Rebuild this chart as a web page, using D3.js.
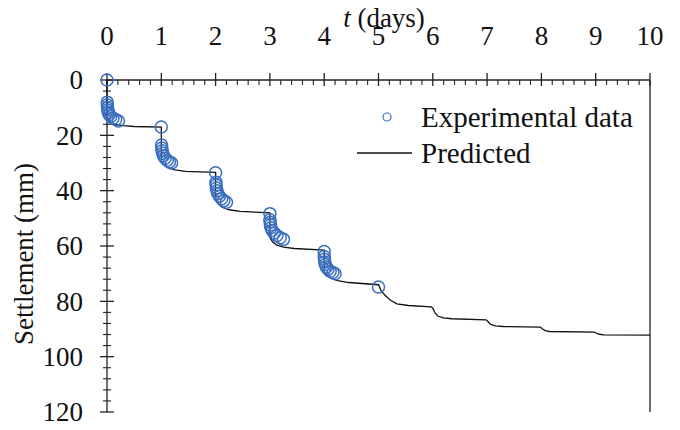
<!DOCTYPE html>
<html>
<head>
<meta charset="utf-8">
<script src="https://cdn.jsdelivr.net/npm/d3@7/dist/d3.min.js"></script>
<style>
  body { margin: 0; background: #fff; }
  svg { display: block; font-family: "Liberation Serif", "Times New Roman", serif; }
</style>
</head>
<body>
<div id="chart"></div>
<script>
// ---- data ----
const xTicks = [0, 1, 2, 3, 4, 5, 6, 7, 8, 9, 10];
const yTicks = [0, 20, 40, 60, 80, 100, 120];

// experimental settlement (mm) vs time (days)
const expT = [
  0, 0.005, 0.005, 0.01, 0.015, 0.025, 0.04, 0.07, 0.11, 0.16, 0.21,
  1.0, 1.005, 1.01, 1.015, 1.025, 1.04, 1.07, 1.11, 1.15, 1.19,
  2.0, 2.005, 2.01, 2.015, 2.025, 2.04, 2.07, 2.11, 2.15, 2.2,
  3.0, 3.0, 3.005, 3.01, 3.02, 3.04, 3.08, 3.13, 3.19, 3.25,
  4.0, 4.0, 4.005, 4.01, 4.02, 4.04, 4.07, 4.11, 4.16, 4.2,
  5.0
];
const expS = [
  0, 8, 9, 10, 10.8, 11.7, 12.5, 13.2, 13.8, 14.3, 14.8,
  17.0, 23.5, 24.6, 25.6, 26.5, 27.4, 28.3, 29.0, 29.6, 30.0,
  33.5, 37.0, 38.0, 39.0, 40.0, 41.0, 42.0, 42.9, 43.6, 44.2,
  48.3, 50.5, 51.4, 52.4, 53.4, 54.4, 55.3, 56.2, 57.0, 57.6,
  62.0, 63.8, 64.8, 65.8, 66.7, 67.6, 68.4, 69.1, 69.6, 70.0,
  74.8
];

// predicted curve
const predT = [
  0, 0, 0.03, 0.08, 0.15, 0.3, 0.5, 1,
  1, 1.05, 1.12, 1.25, 1.45, 2,
  2, 2.05, 2.12, 2.25, 2.45, 3,
  3, 3.05, 3.12, 3.25, 3.45, 4,
  4, 4.05, 4.12, 4.25, 4.45, 5,
  5.05, 5.12, 5.22, 5.34, 5.55, 5.97,
  6.0, 6.04, 6.1, 6.2, 6.35, 6.98,
  7.02, 7.06, 7.15, 7.3, 7.98,
  8.02, 8.07, 8.15, 8.98,
  9.02, 9.07, 9.15, 10
];
const predS = [
  0, 13.5, 14.6, 15.4, 16.0, 16.5, 16.8, 17.0,
  29.3, 30.5, 31.6, 32.5, 33.0, 33.4,
  43.3, 44.8, 46.0, 46.9, 47.5, 48.0,
  57.0, 58.5, 59.6, 60.4, 60.9, 61.5,
  69.5, 70.7, 71.6, 72.5, 73.2, 74.0,
  76.2, 77.8, 79.6, 80.9, 81.5, 82.0,
  82.5, 84.2, 85.4, 86.0, 86.3, 86.7,
  87.4, 88.3, 88.9, 89.1, 89.3,
  90.0, 90.6, 90.9, 91.1,
  91.6, 91.9, 92.1, 92.2
];

const W = 680, H = 430;
const axisColor = '#222';
const dotColor = '#3a6fc0';

const svg = d3.select('#chart').append('svg')
  .attr('width', W).attr('height', H);

const x = d3.scaleLinear().domain([0, 10]).range([107, 650]);
const y = d3.scaleLinear().domain([0, 120]).range([80, 412]);

// minor ticks
const xMinor = d3.range(0, 10.001, 0.2).filter(v => Math.abs(v - Math.round(v)) > 1e-6);
const yMinor = d3.range(0, 120.001, 4).filter(v => v % 20 !== 0);

// top x axis
const gx = svg.append('g').attr('transform', `translate(0,${y(0)})`);
gx.append('line').attr('x1', x(0)).attr('x2', x(10)).attr('stroke', axisColor).attr('stroke-width', 1.3);
gx.selectAll('line.minor').data(xMinor).join('line').attr('class', 'minor')
  .attr('x1', d => x(d)).attr('x2', d => x(d)).attr('y1', 0).attr('y2', 5)
  .attr('stroke', axisColor).attr('stroke-width', 1.1);
gx.selectAll('line.major').data(xTicks).join('line').attr('class', 'major')
  .attr('x1', d => x(d)).attr('x2', d => x(d)).attr('y1', -7).attr('y2', 6)
  .attr('stroke', axisColor).attr('stroke-width', 1.3);
gx.selectAll('text').data(xTicks).join('text')
  .attr('x', d => x(d)).attr('y', -35)
  .attr('text-anchor', 'middle')
  .attr('font-size', 27).attr('fill', '#111')
  .text(d => d);

// left y axis
const gy = svg.append('g').attr('transform', `translate(${x(0)},0)`);
gy.append('line').attr('y1', y(0)).attr('y2', y(120)).attr('stroke', axisColor).attr('stroke-width', 1.3);
gy.selectAll('line.minor').data(yMinor).join('line').attr('class', 'minor')
  .attr('y1', d => y(d)).attr('y2', d => y(d)).attr('x1', -4).attr('x2', 4)
  .attr('stroke', axisColor).attr('stroke-width', 1.1);
gy.selectAll('line.major').data(yTicks).join('line').attr('class', 'major')
  .attr('y1', d => y(d)).attr('y2', d => y(d)).attr('x1', -7).attr('x2', 7)
  .attr('stroke', axisColor).attr('stroke-width', 1.3);
gy.selectAll('text').data(yTicks).join('text')
  .attr('x', -24).attr('y', d => y(d))
  .attr('text-anchor', 'end').attr('dy', '0.35em')
  .attr('font-size', 27).attr('fill', '#111')
  .text(d => d);

// right border
svg.append('line')
  .attr('x1', x(10)).attr('x2', x(10)).attr('y1', y(0)).attr('y2', y(120))
  .attr('stroke', axisColor).attr('stroke-width', 1.3);

// axis titles
const title = svg.append('text')
  .attr('x', 384).attr('y', 27)
  .attr('text-anchor', 'middle').attr('font-size', 27).attr('fill', '#111');
title.append('tspan').attr('font-style', 'italic').text('t');
title.append('tspan').text(' (days)');

svg.append('text')
  .attr('transform', `translate(33,${(y(0) + y(120)) / 2 + 8}) rotate(-90)`)
  .attr('text-anchor', 'middle').attr('font-size', 27).attr('fill', '#111')
  .text('Settlement (mm)');

// predicted line
const predData = predT.map((t, i) => [t, predS[i]]);
svg.append('path')
  .datum(predData)
  .attr('fill', 'none').attr('stroke', '#111').attr('stroke-width', 1.3)
  .attr('d', d3.line().x(d => x(d[0])).y(d => y(d[1])));

// experimental points
const expData = expT.map((t, i) => [t, expS[i]]);
svg.append('g').selectAll('circle').data(expData).join('circle')
  .attr('cx', d => x(d[0])).attr('cy', d => y(d[1])).attr('r', 6)
  .attr('fill', 'none').attr('stroke', dotColor).attr('stroke-width', 1.5);

// legend
const lg = svg.append('g');
lg.append('circle').attr('cx', 387).attr('cy', 117).attr('r', 4)
  .attr('fill', 'none').attr('stroke', dotColor).attr('stroke-width', 1.2);
lg.append('text').attr('x', 421).attr('y', 127).attr('font-size', 29).attr('fill', '#111')
  .text('Experimental data');
lg.append('line').attr('x1', 357).attr('x2', 412).attr('y1', 153).attr('y2', 153)
  .attr('stroke', '#111').attr('stroke-width', 1.3);
lg.append('text').attr('x', 421).attr('y', 163).attr('font-size', 29).attr('fill', '#111')
  .text('Predicted');
</script>
</body>
</html>
